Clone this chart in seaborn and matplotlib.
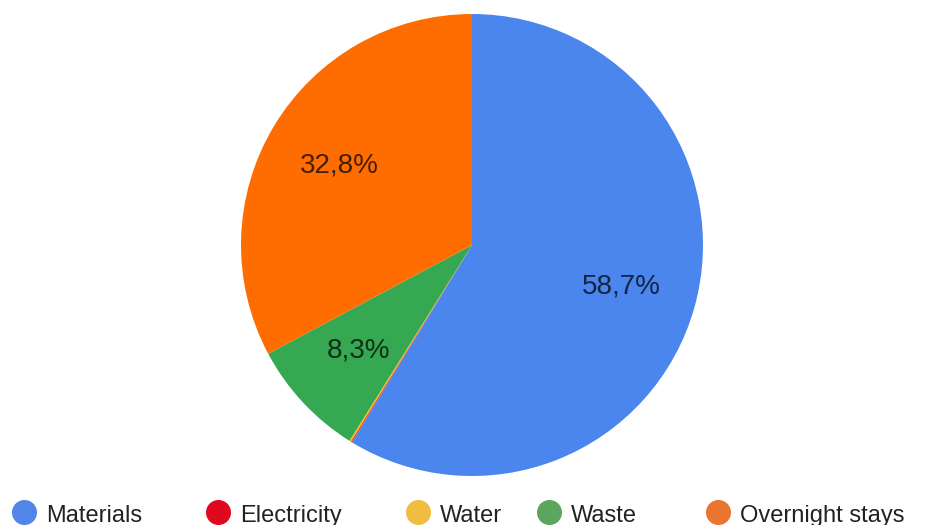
import matplotlib
matplotlib.use("Agg")
import matplotlib.pyplot as plt
import seaborn as sns
from matplotlib.lines import Line2D

sns.set_style("white")
plt.rcParams['font.family'] = ['Liberation Sans', 'DejaVu Sans']

# data
categories = ["Materials", "Electricity", "Water", "Waste", "Overnight stays"]
shares = [58.7, 0.1, 0.1, 8.3, 32.8]

pie_colors = ["#4a86ee", "#ea4335", "#fbbc04", "#37a852", "#ff6d01"]
legend_colors = ["#5285ea", "#e0081c", "#f1bd41", "#5ba55f", "#e97530"]

fig = plt.figure(figsize=(9.37, 5.25), dpi=100)
ax = fig.add_axes([241 / 937, 49 / 525, 462 / 937, 462 / 525])


def fmt(p):
    # tiny slices get no label
    return f"{p:.1f}%".replace(".", ",") if p >= 1 else ""


wedges, texts, autotexts = ax.pie(
    shares, colors=pie_colors, startangle=90, counterclock=False,
    autopct=fmt, pctdistance=0.67, radius=1,
    wedgeprops=dict(linewidth=0),
    textprops=dict(fontsize=20, color="black", alpha=0.72),
)
ax.set_aspect("equal")
ax.set_xlim(-1, 1)
ax.set_ylim(-1, 1)

# legend row along the bottom edge
marker_x = [24, 218, 418, 549, 718]
for name, col, mx in zip(categories, legend_colors, marker_x):
    fig.add_artist(Line2D([mx / 937], [0.0248], marker="o", markersize=17,
                          color=col, linestyle="none",
                          transform=fig.transFigure))
    fig.text((mx + 22) / 937, 0.006, name, fontsize=17, color="#222222",
             ha="left", va="baseline")

fig.savefig("out.png", dpi=100)
